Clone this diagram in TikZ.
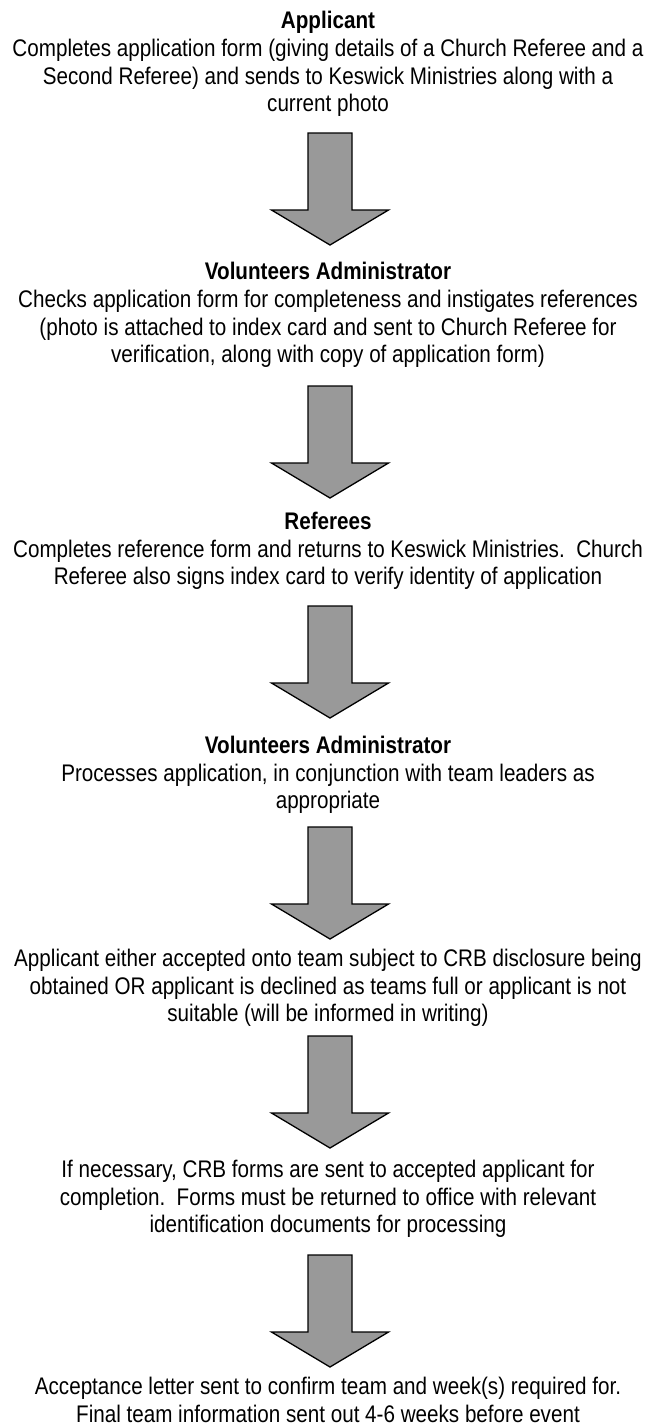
\documentclass[tikz,border=0pt]{standalone}
\usepackage{fontspec}
\setmainfont{Liberation Sans}[FakeStretch=0.86]
\definecolor{arrowgray}{RGB}{153,153,153}
\tikzset{
  step text/.style={align=center, inner sep=0pt,
    font=\fontsize{24}{27.7}\selectfont},
  down arrow/.pic={
    \draw[fill=arrowgray, line width=1.3pt, line join=miter]
      (-22,0) -- (22,0) -- (22,77) -- (58.5,77) -- (0,112)
      -- (-58.5,77) -- (-22,77) -- cycle;
  }
}
\begin{document}
\begin{tikzpicture}[x=1pt, y=-1pt]
  \useasboundingbox (0,0) rectangle (657,1427);
  \node[step text] (applicant) at (328,64) {\textbf{Applicant}\\
    Completes application form (giving details of a Church Referee and a\\
    Second Referee) and sends to Keswick Ministries along with a\\
    current photo};
  \node[step text] (checks) at (328,315) {\textbf{Volunteers Administrator}\\
    Checks application form for completeness and instigates references\\
    (photo is attached to index card and sent to Church Referee for\\
    verification, along with copy of application form)};
  \node[step text] (referees) at (328,551) {\textbf{Referees}\\
    Completes reference form and returns to Keswick Ministries.\ \ Church\\
    Referee also signs index card to verify identity of application};
  \node[step text] (processes) at (328,775) {\textbf{Volunteers Administrator}\\
    Processes application, in conjunction with team leaders as\\
    appropriate};
  \node[step text] (decision) at (328,988) {Applicant either accepted onto team subject to CRB disclosure being\\
    obtained OR applicant is declined as teams full or applicant is not\\
    suitable (will be informed in writing)};
  \node[step text] (crbforms) at (328,1199) {If necessary, CRB forms are sent to accepted applicant for\\
    completion.\ \ Forms must be returned to office with relevant\\
    identification documents for processing};
  \node[step text] (acceptance) at (328,1400) {Acceptance letter sent to confirm team and week(s) required for.\\
    Final team information sent out 4-6 weeks before event};
  \pic at (330,133) {down arrow};
  \pic at (330,386) {down arrow};
  \pic at (330,606) {down arrow};
  \pic at (330,827) {down arrow};
  \pic at (330,1036) {down arrow};
  \pic at (330,1255) {down arrow};
\end{tikzpicture}
\end{document}
